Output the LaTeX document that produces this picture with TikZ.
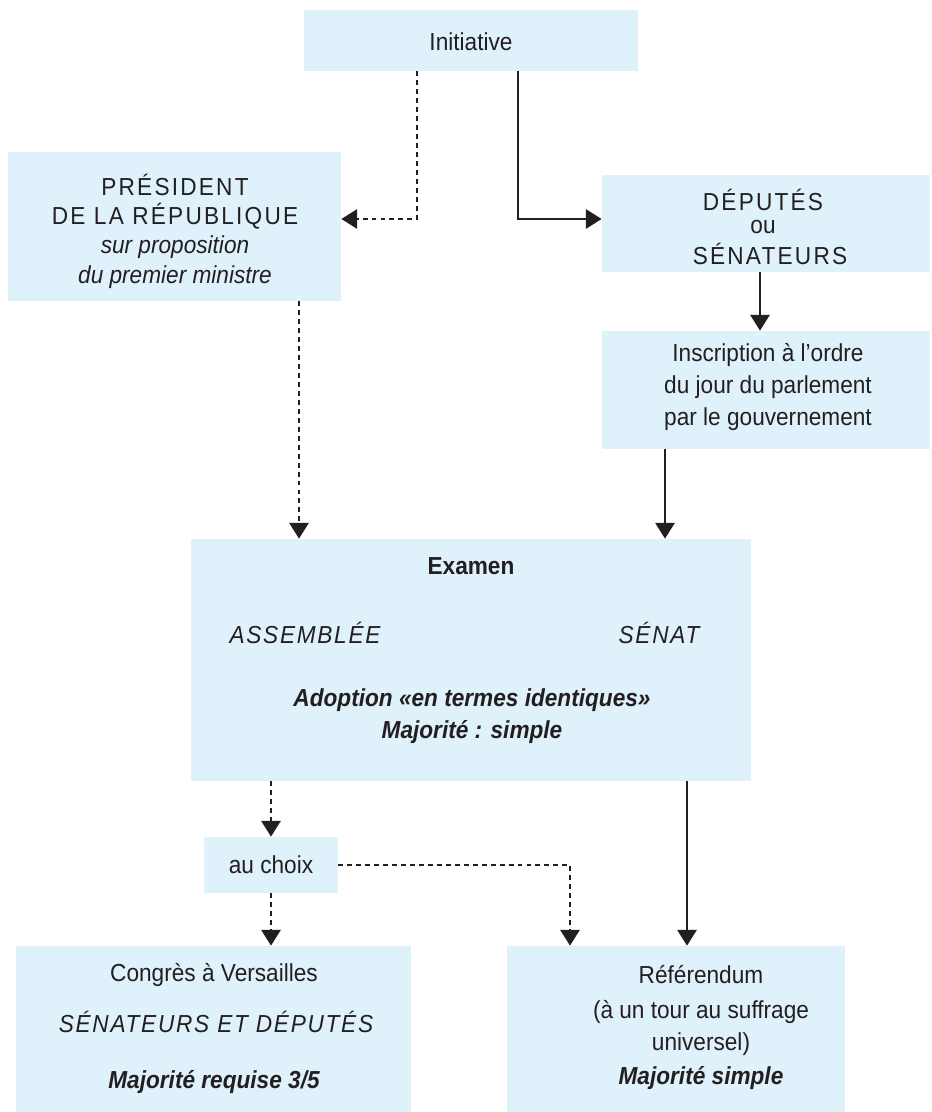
\documentclass[tikz,border=0pt]{standalone}
\usepackage{fontspec}
\setmainfont{Liberation Sans}[FakeStretch=0.92]
\usetikzlibrary{arrows.meta,fit}
\definecolor{boxblue}{HTML}{DFF1FA}
\definecolor{ink}{HTML}{231F20}
\tikzset{
  box/.style={fill=boxblue, inner sep=0pt},
  txt/.style={text=ink, font=\fontsize{14}{16}\selectfont, inner sep=0pt},
  caps/.style={txt, font=\fontsize{14}{16}\selectfont\addfontfeature{LetterSpace=9}},
  icaps/.style={txt, font=\fontsize{14}{16}\selectfont\itshape\addfontfeature{LetterSpace=7}},
  lien/.style={draw=ink, line width=1.1pt, -{Triangle[width=11pt,length=9pt]}},
  pointille/.style={lien, dash pattern=on 2.8pt off 2.3pt}
}
\begin{document}
\begin{tikzpicture}[x=0.02cm,y=-0.02cm]
\useasboundingbox (0,0) rectangle (931,1112);
% boites
\node[box, fit={(304,10) (638,71)}] (ini) {};
\node[box, fit={(8,152) (341,301)}] (pres) {};
\node[box, fit={(602,175) (930,272)}] (dep) {};
\node[box, fit={(602,331) (930,449)}] (insc) {};
\node[box, fit={(191,539) (751,781)}] (exam) {};
\node[box, fit={(204,837) (338,893)}] (choix) {};
\node[box, fit={(16,946) (411,1112)}] (cong) {};
\node[box, fit={(507,946) (845,1112)}] (ref) {};
% textes
\node[txt] (t-ini) at (471,42) {Initiative};
\node[caps] (t-pres1) at (175,185) {PRÉSIDENT};
\node[caps] (t-pres2) at (175,216) {DE LA RÉPUBLIQUE};
\node[txt, font=\fontsize{14}{16}\selectfont\itshape] (t-pres3) at (175,247) {sur proposition};
\node[txt, font=\fontsize{14}{16}\selectfont\itshape] (t-pres4) at (175,277) {du premier ministre};
\node[caps] (t-dep1) at (763,200) {DÉPUTÉS};
\node[txt] (t-dep2) at (763,227) {ou};
\node[caps] (t-dep3) at (770,254) {SÉNATEURS};
\node[txt] (t-insc1) at (768,355) {Inscription à l’ordre};
\node[txt] (t-insc2) at (768,387) {du jour du parlement};
\node[txt] (t-insc3) at (768,419) {par le gouvernement};
\node[txt, font=\fontsize{14}{16}\selectfont\bfseries] (t-exam) at (471,566) {Examen};
\node[icaps] (t-ass) at (305,633) {ASSEMBLÉE};
\node[icaps] (t-sen) at (659,633) {SÉNAT};
\node[txt, font=\fontsize{14}{16}\selectfont\bfseries\itshape] (t-adop) at (472,700) {Adoption «en termes identiques»};
\node[txt, font=\fontsize{14}{16}\selectfont\bfseries\itshape] (t-maj) at (472,732) {Majorité : simple};
\node[txt] (t-choix) at (271,865) {au choix};
\node[txt] (t-cong1) at (214,975) {Congrès à Versailles};
\node[icaps] (t-cong2) at (216,1022) {SÉNATEURS ET DÉPUTÉS};
\node[txt, font=\fontsize{14}{16}\selectfont\bfseries\itshape] (t-cong3) at (214,1082) {Majorité requise 3/5};
\node[txt] (t-ref1) at (701,975) {Référendum};
\node[txt] (t-ref2) at (701,1012) {(à un tour au suffrage};
\node[txt] (t-ref3) at (701,1044) {universel)};
\node[txt, font=\fontsize{14}{16}\selectfont\bfseries\itshape] (t-ref4) at (701,1078) {Majorité simple};
% reperes
\coordinate (a1) at (417,219);
\coordinate (a2) at (518,219);
\coordinate (a3) at (760,0);
\coordinate (a4) at (299,0);
\coordinate (a5) at (665,0);
\coordinate (a6) at (271,0);
\coordinate (a7) at (570,865);
\coordinate (a8) at (687,0);
% fleches
\draw[pointille] (ini.south -| a1) |- (pres.east |- a1);
\draw[lien] (ini.south -| a2) |- (dep.west |- a2);
\draw[lien] (dep.south -| a3) -- (insc.north -| a3);
\draw[pointille] (pres.south -| a4) -- (exam.north -| a4);
\draw[lien] (insc.south -| a5) -- (exam.north -| a5);
\draw[pointille] (exam.south -| a6) -- (choix.north -| a6);
\draw[pointille] (choix.south -| a6) -- (cong.north -| a6);
\draw[pointille] (choix.east |- a7) -| (ref.north -| a7);
\draw[lien] (exam.south -| a8) -- (ref.north -| a8);
\end{tikzpicture}
\end{document}
